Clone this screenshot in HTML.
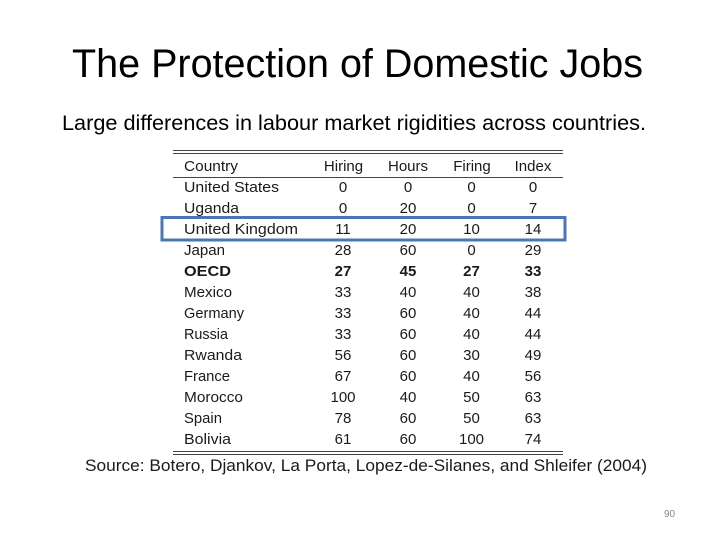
<!DOCTYPE html>
<html>
<head>
<meta charset="utf-8">
<style>
html,body{margin:0;padding:0;background:#fff;}
svg{display:block;}
</style>
</head>
<body>
<svg width="720" height="540" viewBox="0 0 720 540" xmlns="http://www.w3.org/2000/svg">
<rect width="720" height="540" fill="#fff"/>
<g font-family="Liberation Sans, sans-serif" fill="#000">
<text x="72" y="77" font-size="40" textLength="571" lengthAdjust="spacingAndGlyphs">The Protection of Domestic Jobs</text>
<text x="62" y="130" font-size="21" textLength="584" lengthAdjust="spacingAndGlyphs">Large differences in labour market rigidities across countries.</text>
</g>
<g stroke="#444" stroke-width="1">
<line x1="173" y1="150.5" x2="563" y2="150.5"/>
<line x1="173" y1="153.5" x2="563" y2="153.5"/>
<line x1="173" y1="177.5" x2="563" y2="177.5"/>
<line x1="173" y1="451.5" x2="563" y2="451.5"/>
<line x1="173" y1="454.5" x2="563" y2="454.5"/>
</g>
<g font-family="Liberation Sans, sans-serif" font-size="15" fill="#1a1a1a">
<text x="184" y="171" textLength="54" lengthAdjust="spacingAndGlyphs">Country</text>
<g text-anchor="middle">
<text x="343.5" y="171">Hiring</text>
<text x="408" y="171">Hours</text>
<text x="472" y="171">Firing</text>
<text x="533" y="171">Index</text>
</g>
<text x="184" y="192" textLength="95" lengthAdjust="spacingAndGlyphs">United States</text>
<text x="184" y="213" textLength="55" lengthAdjust="spacingAndGlyphs">Uganda</text>
<text x="184" y="234" textLength="114" lengthAdjust="spacingAndGlyphs">United Kingdom</text>
<text x="184" y="255" textLength="41" lengthAdjust="spacingAndGlyphs">Japan</text>
<text x="184" y="276" textLength="47" lengthAdjust="spacingAndGlyphs" font-weight="bold">OECD</text>
<text x="184" y="297" textLength="48" lengthAdjust="spacingAndGlyphs">Mexico</text>
<text x="184" y="318" textLength="60" lengthAdjust="spacingAndGlyphs">Germany</text>
<text x="184" y="339" textLength="44" lengthAdjust="spacingAndGlyphs">Russia</text>
<text x="184" y="360" textLength="58" lengthAdjust="spacingAndGlyphs">Rwanda</text>
<text x="184" y="381" textLength="46" lengthAdjust="spacingAndGlyphs">France</text>
<text x="184" y="402" textLength="59" lengthAdjust="spacingAndGlyphs">Morocco</text>
<text x="184" y="423" textLength="38" lengthAdjust="spacingAndGlyphs">Spain</text>
<text x="184" y="444" textLength="47" lengthAdjust="spacingAndGlyphs">Bolivia</text>
<g text-anchor="middle">
<text x="343" y="192">0</text><text x="408" y="192">0</text><text x="471.5" y="192">0</text><text x="533" y="192">0</text>
<text x="343" y="213">0</text><text x="408" y="213">20</text><text x="471.5" y="213">0</text><text x="533" y="213">7</text>
<text x="343" y="234">11</text><text x="408" y="234">20</text><text x="471.5" y="234">10</text><text x="533" y="234">14</text>
<text x="343" y="255">28</text><text x="408" y="255">60</text><text x="471.5" y="255">0</text><text x="533" y="255">29</text>
<g font-weight="bold">
<text x="343" y="276">27</text><text x="408" y="276">45</text><text x="471.5" y="276">27</text><text x="533" y="276">33</text>
</g>
<text x="343" y="297">33</text><text x="408" y="297">40</text><text x="471.5" y="297">40</text><text x="533" y="297">38</text>
<text x="343" y="318">33</text><text x="408" y="318">60</text><text x="471.5" y="318">40</text><text x="533" y="318">44</text>
<text x="343" y="339">33</text><text x="408" y="339">60</text><text x="471.5" y="339">40</text><text x="533" y="339">44</text>
<text x="343" y="360">56</text><text x="408" y="360">60</text><text x="471.5" y="360">30</text><text x="533" y="360">49</text>
<text x="343" y="381">67</text><text x="408" y="381">60</text><text x="471.5" y="381">40</text><text x="533" y="381">56</text>
<text x="343" y="402">100</text><text x="408" y="402">40</text><text x="471.5" y="402">50</text><text x="533" y="402">63</text>
<text x="343" y="423">78</text><text x="408" y="423">60</text><text x="471.5" y="423">50</text><text x="533" y="423">63</text>
<text x="343" y="444">61</text><text x="408" y="444">60</text><text x="471.5" y="444">100</text><text x="533" y="444">74</text>
</g>
</g>
<rect x="162" y="217.5" width="403" height="22.5" fill="none" stroke="#4a76b3" stroke-width="3"/>
<text x="85" y="471" font-family="Liberation Sans, sans-serif" font-size="17" fill="#1a1a1a" textLength="562" lengthAdjust="spacingAndGlyphs">Source: Botero, Djankov, La Porta, Lopez-de-Silanes, and Shleifer (2004)</text>
<text x="664" y="517" font-family="Liberation Sans, sans-serif" font-size="10" fill="#888">90</text>
</svg>
</body>
</html>
